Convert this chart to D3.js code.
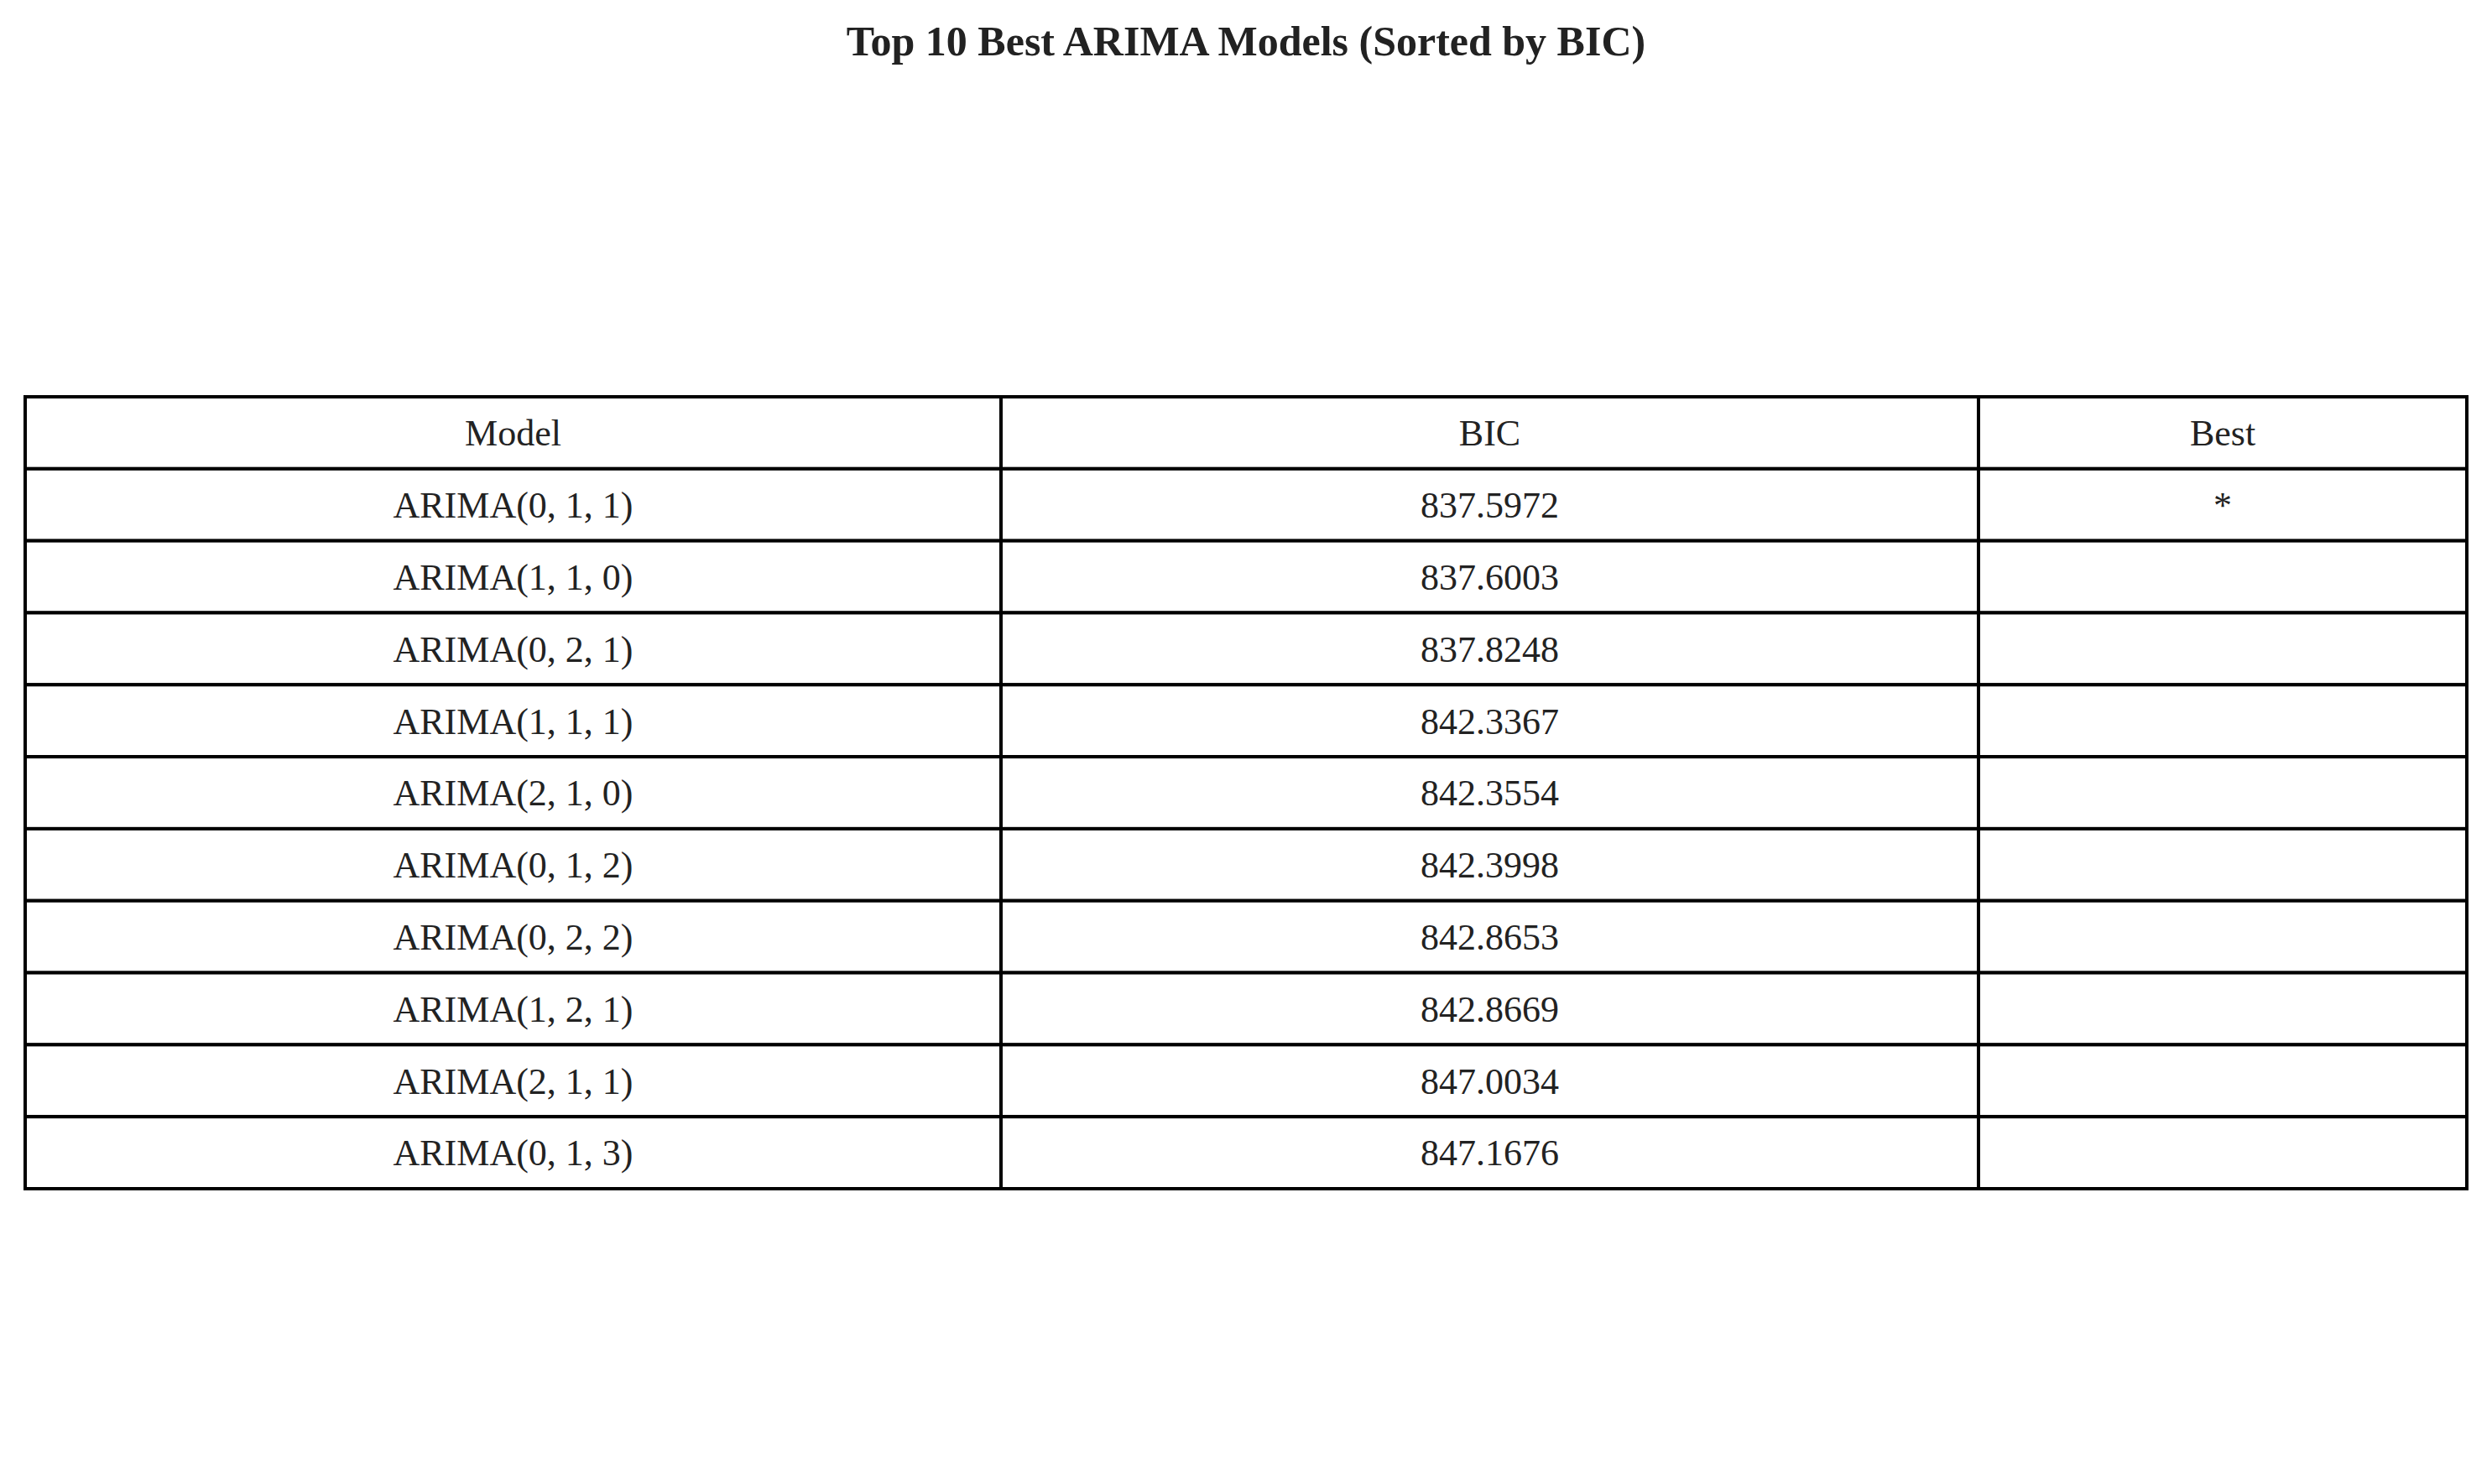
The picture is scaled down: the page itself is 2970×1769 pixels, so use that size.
<!DOCTYPE html>
<html><head><meta charset="utf-8">
<script src="https://cdn.jsdelivr.net/npm/d3@7"></script>
<style>body{margin:0;background:#fff}</style>
</head><body>
<svg id="chart" width="2970" height="1769"></svg>
<script>
const headers = ["Model", "BIC", "Best"];
const models = ["ARIMA(0, 1, 1)","ARIMA(1, 1, 0)","ARIMA(0, 2, 1)","ARIMA(1, 1, 1)","ARIMA(2, 1, 0)",
  "ARIMA(0, 1, 2)","ARIMA(0, 2, 2)","ARIMA(1, 2, 1)","ARIMA(2, 1, 1)","ARIMA(0, 1, 3)"];
const bic = ["837.5972","837.6003","837.8248","842.3367","842.3554","842.3998","842.8653","842.8669","847.0034","847.1676"];
const best = ["*","","","","","","","","",""];

const svg = d3.select("#chart");
const font = "'Liberation Serif', 'Times New Roman', serif";

svg.append("text").attr("x", 1485).attr("y", 66).attr("text-anchor", "middle")
  .attr("font-family", font).attr("font-weight", "bold").attr("font-size", 50)
  .attr("fill", "#222").text("Top 10 Best ARIMA Models (Sorted by BIC)");

const rows = [headers].concat(models.map((m, i) => [m, bic[i], best[i]]));
const colEdges = [30, 1193, 2358, 2940];
const y = d3.scaleBand().domain(d3.range(rows.length)).range([473, 1417]);

const g = svg.append("g");
rows.forEach((r, i) => {
  r.forEach((v, j) => {
    g.append("rect").attr("x", colEdges[j]).attr("y", y(i))
      .attr("width", colEdges[j+1] - colEdges[j]).attr("height", y.bandwidth())
      .attr("fill", "#fff").attr("stroke", "#000").attr("stroke-width", 4);
    g.append("text").attr("x", (colEdges[j] + colEdges[j+1]) / 2)
      .attr("y", y(i) + y.bandwidth() / 2).attr("dy", "0.35em")
      .attr("text-anchor", "middle").attr("font-family", font)
      .attr("font-size", 44).attr("fill", "#222").text(v);
  });
});
</script>
</body></html>
